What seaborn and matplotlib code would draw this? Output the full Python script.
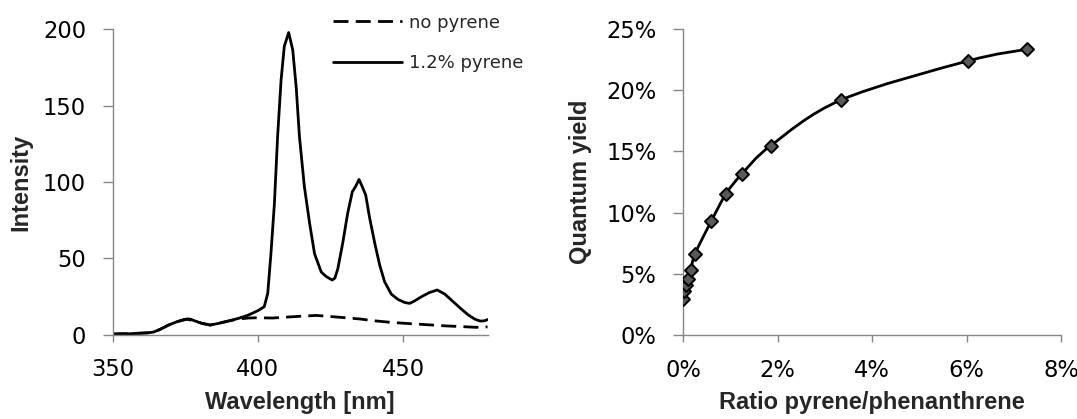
import numpy as np
import pandas as pd
import matplotlib
matplotlib.use("Agg")
import matplotlib.pyplot as plt
import seaborn as sns
from matplotlib.path import Path
from matplotlib.patches import PathPatch
from matplotlib.ticker import FuncFormatter, MultipleLocator

# ---------------- data ----------------
wl_pyrene = [350, 355, 359, 362, 364.1, 366.4, 369.3, 372.2, 374.5, 375.6, 377, 377.9,
             380.8, 383.6, 386.5, 390, 393.4, 396.8, 400, 402.2, 403.4, 404.5, 405.7,
             406.8, 408, 409.1, 410.6, 412, 413.2, 414.3, 416, 417.8, 419.5, 421.8,
             423.5, 425.6, 426.5, 427.5, 429.2, 430.9, 432.5, 433.6, 434.8, 435.9,
             437.1, 438.4, 440.2, 441.9, 443.6, 445.9, 448.2, 450.5, 452.2, 453.9,
             456.3, 458.9, 461.7, 464.3, 467.2, 470.1, 472.4, 474.7, 476.5, 478, 479]
int_pyrene = [0.3, 0.4, 0.8, 1.0, 1.6, 3.4, 6.2, 8.4, 9.8, 10.2, 10.0, 9.2,
              7.3, 6.2, 7.3, 8.9, 10.6, 12.8, 15.6, 18.2, 27, 53, 86,
              130, 167, 189, 198, 186.6, 162, 130, 97, 73, 53, 41,
              38, 35.7, 37, 43, 60, 79.5, 93.6, 97, 101.7, 97,
              91.5, 77, 60, 45.6, 34.6, 26.5, 23, 21, 20.4, 22,
              24.8, 27.4, 29.2, 26.5, 21.5, 16.5, 12.8, 10, 8.8, 9, 9.8]

wl_none = [350, 359, 364.1, 366.4, 369.3, 372.2, 375.6, 377.9, 380.8, 383.6, 386.5,
           390, 393.4, 396.8, 400, 405, 410, 415, 420, 425, 430, 435, 440, 445,
           450, 455, 460, 465, 470, 475, 479]
int_none = [0.3, 0.8, 1.4, 3.4, 6.2, 8.4, 10.0, 9.0, 7.3, 6.2, 7.3,
            8.9, 10.2, 10.8, 11.0, 10.8, 11.4, 12.0, 12.5, 11.8, 11.0, 10.2, 9.0, 8.1,
            7.4, 6.8, 6.2, 5.6, 5.2, 4.7, 5.0]

series_labels = ["no pyrene", "1.2% pyrene"]

ratio_pct = [0.0, 0.03, 0.06, 0.10, 0.17, 0.25, 0.60, 0.91, 1.24, 1.86, 3.35, 6.03, 7.27]
qy_pct = [2.92, 3.62, 4.08, 4.55, 5.31, 6.59, 9.32, 11.53, 13.13, 15.48, 19.21, 22.39, 23.34]

# ---------------- style ----------------
sns.set_theme(style="white")
plt.rcParams['font.family'] = ['DejaVu Sans']
AX_GRAY = '#868686'
TICK_FS = 16.3
LW = 2.0
LABEL_FONT = dict(family=['Liberation Sans', 'DejaVu Sans'], weight='bold', size=17)

fig = plt.figure(figsize=(10.77, 4.19), dpi=100)
ax1 = fig.add_axes([112.5 / 1077, (419 - 334.5) / 419, 375 / 1077, 305 / 419])
ax2 = fig.add_axes([683 / 1077, (419 - 335) / 419, 378 / 1077, 306 / 419])

# ---------------- left panel ----------------
df_none = pd.DataFrame({"wl": wl_none, "I": int_none})
df_pyr = pd.DataFrame({"wl": wl_pyrene, "I": int_pyrene})
sns.lineplot(data=df_none, x="wl", y="I", ax=ax1, color='black', lw=LW,
             linestyle=(0, (5.4, 2.6)), label=series_labels[0])
sns.lineplot(data=df_pyr, x="wl", y="I", ax=ax1, color='black', lw=LW,
             label=series_labels[1])
ax1.set_xlim(350, 479)
ax1.set_ylim(0, 200)
ax1.set_xticks([350, 400, 450])
ax1.set_yticks([0, 50, 100, 150, 200])
ax1.set_xlabel("Wavelength [nm]", fontdict=LABEL_FONT, labelpad=7)
ax1.set_ylabel("Intensity", fontdict=LABEL_FONT, labelpad=8)
leg = ax1.legend(loc='center left', bbox_to_anchor=(0.588, 0.956), frameon=False,
                 fontsize=13, handlelength=3.8, handletextpad=0.4,
                 labelspacing=1.25, borderpad=0, borderaxespad=0)

# ---------------- right panel ----------------
df_qy = pd.DataFrame({"ratio": ratio_pct, "qy": qy_pct})
# smoothed connecting line (Bezier curve through the points, like a "smoothed line" chart)
pts = df_qy[["ratio", "qy"]].to_numpy()
verts = [tuple(pts[0])]
codes = [Path.MOVETO]
n = len(pts)
for i in range(n - 1):
    p0 = pts[i - 1] if i > 0 else pts[i]
    p1 = pts[i]
    p2 = pts[i + 1]
    p3 = pts[i + 2] if i + 2 < n else pts[i + 1]
    c1 = p1 + (p2 - p0) / 6.0
    c2 = p2 - (p3 - p1) / 6.0
    verts += [tuple(c1), tuple(c2), tuple(p2)]
    codes += [Path.CURVE4, Path.CURVE4, Path.CURVE4]
ax2.add_patch(PathPatch(Path(verts, codes), facecolor='none', edgecolor='black',
                        lw=LW, zorder=2))
sns.scatterplot(data=df_qy, x="ratio", y="qy", ax=ax2, marker='D', s=44,
                color='#595959', edgecolor='black', linewidth=1.4, zorder=3)
ax2.set_xlim(0, 8)
ax2.set_ylim(0, 25)
ax2.xaxis.set_major_locator(MultipleLocator(2))
ax2.yaxis.set_major_locator(MultipleLocator(5))
pct = FuncFormatter(lambda v, p: f"{v:.0f}%")
ax2.xaxis.set_major_formatter(pct)
ax2.yaxis.set_major_formatter(pct)
ax2.set_xlabel("Ratio pyrene/phenanthrene", fontdict=LABEL_FONT, labelpad=7)
ax2.set_ylabel("Quantum yield", fontdict=LABEL_FONT, labelpad=10)

for ax in (ax1, ax2):
    for side in ("top", "right"):
        ax.spines[side].set_visible(False)
    for side in ("left", "bottom"):
        ax.spines[side].set_color(AX_GRAY)
        ax.spines[side].set_linewidth(1.0)
    ax.tick_params(axis='y', direction='out', length=7, width=1, color=AX_GRAY,
                   labelsize=TICK_FS, labelcolor='black', pad=12, left=True)
    ax.tick_params(axis='x', direction='out', length=5, width=1, color=AX_GRAY,
                   labelsize=TICK_FS, labelcolor='black', pad=12, bottom=True)
    ax.grid(False)

fig.savefig("out.png", dpi=100)
